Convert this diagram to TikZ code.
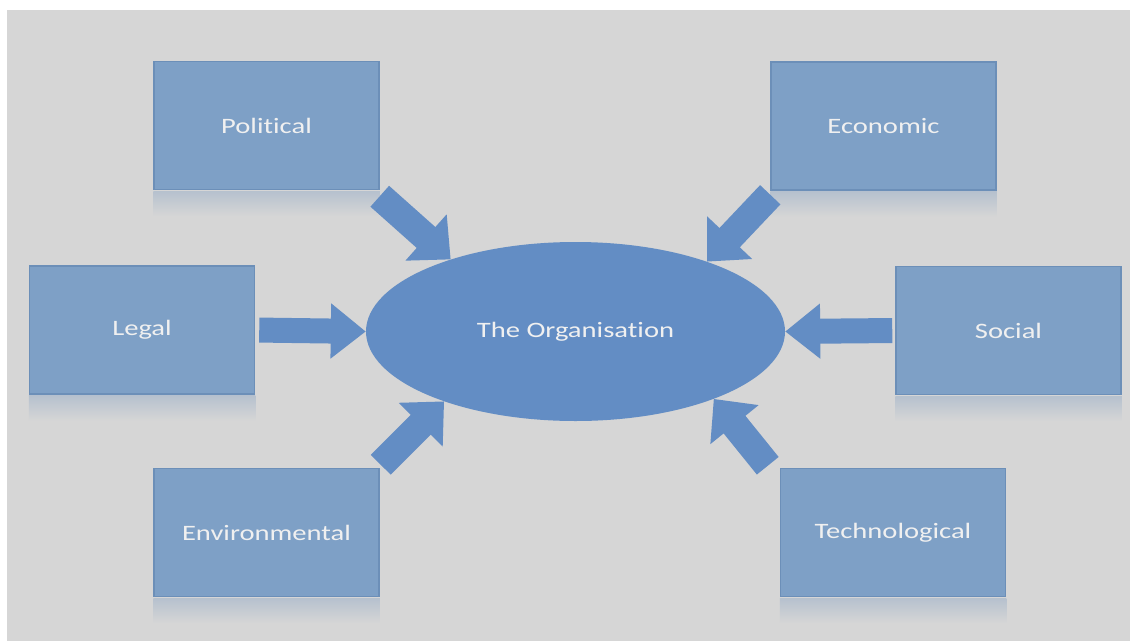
\documentclass[tikz,border=0pt]{standalone}
\usepackage{fontspec}
\setmainfont{Carlito}[FakeStretch=1.3,Ligatures=NoCommon]
\usetikzlibrary{arrows.meta,shapes.geometric}

\definecolor{slidegray}{RGB}{214,214,214}
\definecolor{boxblue}{RGB}{126,160,198}
\definecolor{boxline}{RGB}{108,143,184}
\definecolor{orgblue}{RGB}{99,141,196}
\definecolor{mirror}{RGB}{182,193,206}

\tikzstyle{factor}=[rectangle,draw=boxline,line width=1.5pt,fill=boxblue,minimum width=225pt,minimum height=128pt,inner sep=0pt,text=white!94!black]
\tikzstyle{org}=[ellipse,fill=orgblue,minimum width=419pt,minimum height=179pt,inner sep=0pt,text=white!94!black]
\tikzstyle{force}=[-{Triangle[length=35pt,width=53pt]},line width=25pt,draw=orgblue]
\tikzstyle{slant}=[-{Triangle[length=33pt,width=60pt]},line width=28pt,draw=orgblue]

\begin{document}
\begin{tikzpicture}[x=1pt,y=-1pt,font=\fontsize{22}{26}\selectfont]
  \useasboundingbox (0,0) rectangle (1132,643);
  \fill[white] (0,0) rectangle (1132,643);
  \fill[slidegray] (7,10) rectangle (1130,641);

  \node (P) [factor] at (266.5,125.5) {Political};
  \node (E) [factor] at (883.5,126) {Economic};
  \node (L) [factor] at (142,330) {Legal};
  \node (S) [factor] at (1008.5,330.5) {Social};
  \node (V) [factor] at (266.5,532.5) {Environmental};
  \node (T) [factor] at (893,532.5) {Technological};
  \node (O) [org] at (575.5,331.5) {The Organisation};

  % reflections under the boxes
  \foreach \b in {P,E,L,S,V,T}
    \shade[top color=mirror,bottom color=slidegray]
      ([yshift=-1pt]\b.south west) rectangle ([yshift=-26pt]\b.south east);

  \draw[force,shorten <=4pt] (L.east) -- (O.west);
  \draw[force,shorten <=3pt] (S.west) -- (O.east);
  \draw[slant] ([yshift=-6pt]P.south east) -- (O.150);
  \draw[slant] ([yshift=-4pt]E.south west) -- (O.28);
  \draw[slant] ([xshift=1pt,yshift=3pt]V.north east) -- (O.208);
  \draw[slant] ([xshift=-12pt,yshift=2pt]T.north west) -- (O.-26);
\end{tikzpicture}
\end{document}
